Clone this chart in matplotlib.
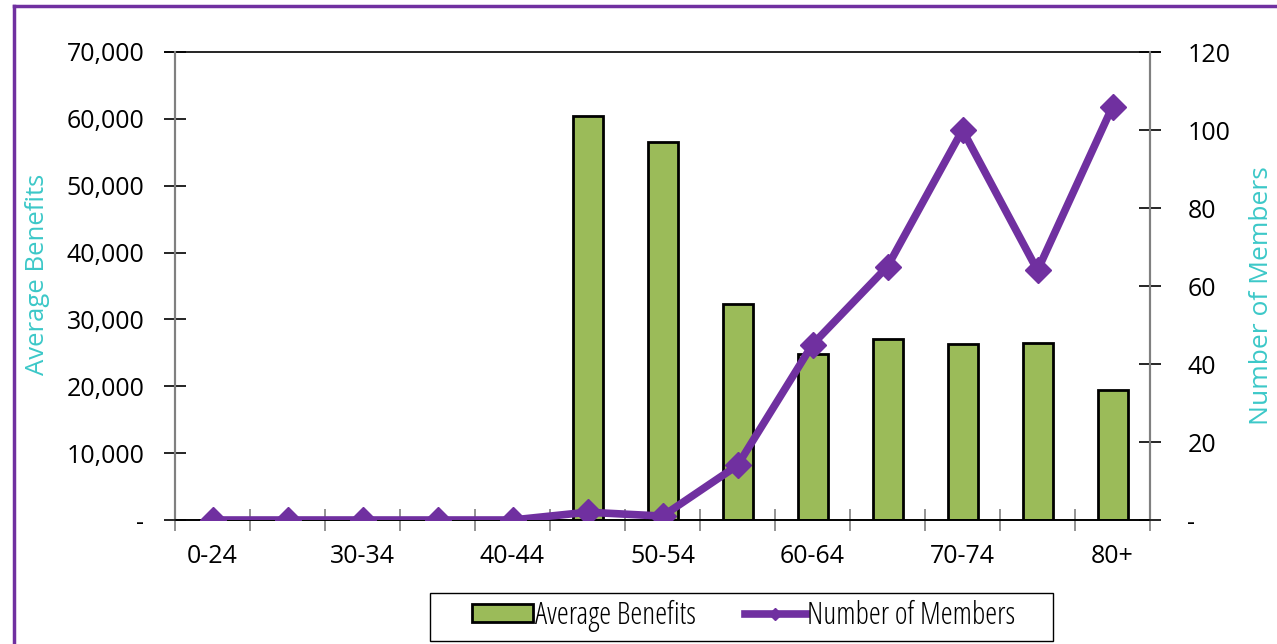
import matplotlib
matplotlib.use("Agg")
import matplotlib.pyplot as plt
from matplotlib.lines import Line2D
from matplotlib.patches import Rectangle
from matplotlib.ticker import FuncFormatter
import numpy as np

plt.rcParams['font.family'] = ['Open Sans', 'DejaVu Sans']

age_groups = ["0-24", "25-29", "30-34", "35-39", "40-44", "45-49", "50-54",
              "55-59", "60-64", "65-69", "70-74", "75-79", "80+"]
avg_benefits = [0, 0, 0, 0, 0, 60400, 56500, 32300, 24800, 27000, 26300, 26500, 19400]
num_members = [0, 0, 0, 0, 0, 2, 1, 14, 45, 65, 100, 64, 106]

purple = "#7030A0"
green = "#9BBB59"
teal = "#3CC8C8"

W, H = 1277, 644
fig = plt.figure(figsize=(W / 100, H / 100), dpi=100)
ax = fig.add_axes([175/W, 1 - 520/H, 975/W, 468/H])
ax2 = ax.twinx()

x = np.arange(len(age_groups))
ax.bar(x, avg_benefits, width=0.4, color=green, edgecolor="black", linewidth=2, zorder=2)
ax2.plot(x, num_members, color=purple, linewidth=5.5, marker="D", markersize=13,
         zorder=3, solid_capstyle="round")

ax.set_xlim(-0.5, len(age_groups) - 0.5)
ax.set_ylim(0, 70000)
ax2.set_ylim(0, 120)

ax.set_yticks(np.arange(0, 70001, 10000))
ax2.set_yticks(np.arange(0, 121, 20))
ax.yaxis.set_major_formatter(FuncFormatter(lambda v, p: "-" if v == 0 else f"{int(v):,}"))
ax2.yaxis.set_major_formatter(FuncFormatter(lambda v, p: "-" if v == 0 else f"{int(v)}"))

# category labels on every other group, tick marks on group boundaries
ax.set_xticks(x[::2])
ax.set_xticklabels(age_groups[::2])
ax.set_xticks(np.arange(-0.5, len(age_groups), 1.0), minor=True)
ax.tick_params(axis="x", which="major", length=0, pad=17, labelsize=18)
ax.tick_params(axis="x", which="minor", direction="inout", length=16, width=1.2, color="#808080")

ax.tick_params(axis="y", direction="inout", length=16, width=1.2, color="black",
               labelsize=18, pad=14)
ax2.tick_params(axis="y", direction="inout", length=16, width=1.2, color="black",
                labelsize=18, pad=19)

for a in (ax, ax2):
    a.spines["top"].set_visible(False)
    a.spines["left"].set_color("#808080")
    a.spines["right"].set_color("#808080")
    a.spines["left"].set_linewidth(1.5)
    a.spines["right"].set_linewidth(1.5)
    a.spines["bottom"].set_color("black")
    a.spines["bottom"].set_linewidth(1.2)

# top border line of the plot area
ax.plot([-0.01, 1.01], [1, 1], transform=ax.transAxes, color="black", lw=1.2, clip_on=False)

ax2.patch.set_visible(False)

fig.text(38/W, 1 - 274/H, "Average Benefits", rotation=90, color=teal,
         fontsize=18.5, ha="center", va="center")
fig.text(1262/W, 1 - 296/H, "Number of Members", rotation=90, color=teal,
         fontsize=19, ha="center", va="center")

# legend entries, with a separate wider box drawn around them
handles = [
    Rectangle((0, 0), 1, 1, facecolor=green, edgecolor="black", linewidth=2),
    Line2D([0], [0], color=purple, lw=5.5, marker="D", markersize=6),
]
leg = fig.legend(handles, ["Average Benefits", "Number of Members"], loc="center",
                 bbox_to_anchor=(744/W, 1 - 616/H), ncol=2, frameon=False,
                 handlelength=2.0, handleheight=0.5, handletextpad=0.05,
                 columnspacing=1.6, borderpad=0, borderaxespad=0,
                 prop={"family": ["Open Sans", "DejaVu Sans"], "stretch": "condensed",
                       "size": 22})
fig.add_artist(Rectangle((430/W, 1 - 641/H), 623/W, 48/H, transform=fig.transFigure,
                         facecolor="none", edgecolor="black", linewidth=1.0))

# purple frame of the figure (left and top edges)
fig.add_artist(Line2D([14/W, 14/W], [0, 1 - 6/H], transform=fig.transFigure,
                      color=purple, lw=2.5))
fig.add_artist(Line2D([14/W, 1], [1 - 6/H, 1 - 6/H], transform=fig.transFigure,
                      color=purple, lw=2.5))

fig.savefig("out.png", dpi=100)
